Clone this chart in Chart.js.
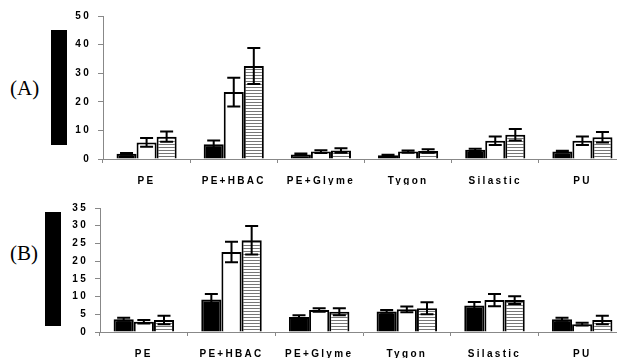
<!DOCTYPE html>
<html>
<head>
<meta charset="utf-8">
<script src="https://cdn.jsdelivr.net/npm/chart.js@4/dist/chart.umd.min.js"></script>
<style>
  body { margin: 0; width: 617px; height: 358px; overflow: hidden; background: #fff; position: relative; }
  canvas { position: absolute; left: 0; }
  .tag { position: absolute; left: 10px; font: 21px "Liberation Serif", "Times New Roman", serif; color: #000; }
  .blk { position: absolute; background: #000; }
</style>
</head>
<body>
<div class="tag" style="top:76px">(A)</div>
<div class="blk" style="left:51px; top:30px; width:16px; height:115px"></div>
<div class="tag" style="top:241px">(B)</div>
<div class="blk" style="left:45px; top:212px; width:16px; height:114px"></div>
<canvas id="chartA" width="630" height="185" style="top:0"></canvas>
<canvas id="chartB" width="630" height="170" style="top:188px"></canvas>
<script>
// categories shared by both panels
var categories = ['PE', 'PE+HBAC', 'PE+Glyme', 'Tygon', 'Silastic', 'PU'];

// panel (A): solid / open / hatched bars, with +/- error
var aSolid = [1.8, 5.2, 1.6, 1.3, 3.2, 2.6];
var aSolidErr = [0.3, 1.3, 0.3, 0.2, 0.4, 0.3];
var aOpen = [5.8, 23.4, 2.6, 2.6, 6.4, 6.4];
var aOpenErr = [1.5, 5.0, 0.5, 0.4, 1.5, 1.5];
var aHatched = [7.8, 32.5, 3.0, 2.8, 8.5, 7.6];
var aHatchedErr = [1.8, 6.3, 0.8, 0.6, 2.0, 1.8];
var aTicks = [0, 10, 20, 30, 40, 50];

// panel (B)
var bSolid = [3.6, 9.2, 4.2, 5.8, 7.5, 3.6];
var bSolidErr = [0.4, 1.5, 0.5, 0.4, 1.0, 0.4];
var bOpen = [2.9, 22.6, 6.2, 6.4, 9.0, 2.2];
var bOpenErr = [0.5, 2.9, 0.5, 0.8, 1.7, 0.4];
var bHatched = [3.4, 25.9, 5.7, 6.7, 9.0, 3.4];
var bHatchedErr = [1.2, 4.0, 1.0, 1.7, 1.1, 1.2];
var bTicks = [0, 5, 10, 15, 20, 25, 30, 35];

// horizontal stripe fill
function stripes() {
    var c = document.createElement('canvas');
    c.width = 4; c.height = 3;
    var g = c.getContext('2d');
    g.fillStyle = '#fff';
    g.fillRect(0, 0, 4, 3);
    g.fillStyle = '#777';
    g.fillRect(0, 0, 4, 1);
    return g.createPattern(c, 'repeat');
}

var errorBars = {
    id: 'errorBars',
    afterDatasetsDraw: function(chart) {
        var ctx = chart.ctx, y = chart.scales.y;
        ctx.save();
        ctx.strokeStyle = '#000';
        ctx.lineWidth = 2;
        chart.data.datasets.forEach(function(ds, i) {
            chart.getDatasetMeta(i).data.forEach(function(bar, j) {
                var v = ds.data[j], e = ds.errors[j];
                var top = y.getPixelForValue(v + e), bot = y.getPixelForValue(Math.max(0, v - e));
                var x = bar.x, w = 6.5;
                ctx.beginPath();
                ctx.moveTo(x, top); ctx.lineTo(x, bot);
                ctx.moveTo(x - w, top); ctx.lineTo(x + w, top);
                ctx.moveTo(x - w, bot); ctx.lineTo(x + w, bot);
                ctx.stroke();
            });
        });
        ctx.restore();
    }
};

var spacing = {
    id: 'spacing',
    beforeDraw: function(chart) { chart.ctx.letterSpacing = '2.3px'; }
};

function makeChart(id, solid, solidErr, open, openErr, hatched, hatchedErr, ticks, yWidth, padTop) {
    var font = { family: '"Liberation Sans", Arial, sans-serif', size: 10, weight: 'bold' };
    var base = { borderColor: '#000', borderWidth: 2, barPercentage: 1, categoryPercentage: 0.69 };
    return new Chart(document.getElementById(id), {
        type: 'bar',
        data: {
            labels: categories,
            datasets: [
                Object.assign({ data: solid, errors: solidErr, backgroundColor: '#000' }, base),
                Object.assign({ data: open, errors: openErr, backgroundColor: '#fff' }, base),
                Object.assign({ data: hatched, errors: hatchedErr, backgroundColor: stripes() }, base)
            ]
        },
        plugins: [spacing, errorBars],
        options: {
            responsive: false,
            animation: false,
            layout: { padding: { left: 0, right: 4, top: padTop, bottom: 0 } },
            plugins: { legend: { display: false }, tooltip: { enabled: false } },
            scales: {
                x: {
                    afterFit: function(s) { s.height = 26; },
                    grid: { offset: true, drawOnChartArea: false, tickLength: 4, color: '#888' },
                    border: { color: '#888', width: 1 },
                    ticks: { color: '#000', font: font, padding: 12, autoSkip: false, maxRotation: 0 }
                },
                y: {
                    min: 0,
                    max: ticks[ticks.length - 1],
                    afterFit: function(s) { s.width = yWidth; },
                    afterBuildTicks: function(s) { s.ticks = ticks.map(function(t) { return { value: t }; }); },
                    grid: { drawOnChartArea: false, tickLength: 5, color: '#888' },
                    border: { color: '#888', width: 1 },
                    ticks: { color: '#000', font: font, padding: 7 }
                }
            }
        }
    });
}

makeChart('chartA', aSolid, aSolidErr, aOpen, aOpenErr, aHatched, aHatchedErr, aTicks, 103, 16);
makeChart('chartB', bSolid, bSolidErr, bOpen, bOpenErr, bHatched, bHatchedErr, bTicks, 100, 20);
</script>
</body>
</html>
